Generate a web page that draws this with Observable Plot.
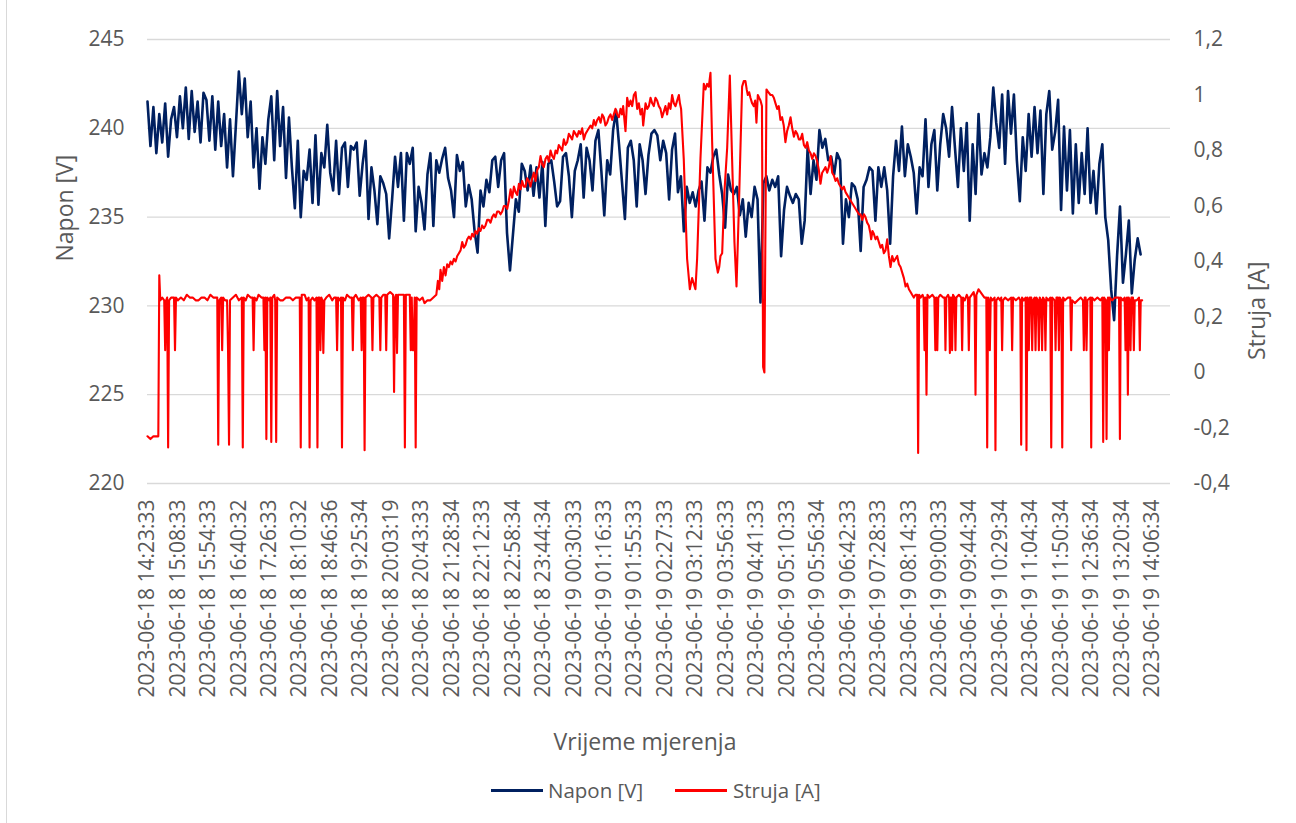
<!DOCTYPE html>
<html><head><meta charset="utf-8">
<script src="https://cdn.jsdelivr.net/npm/d3@7"></script>
<script src="https://cdn.jsdelivr.net/npm/@observablehq/plot@0.6"></script>
<style>
body{margin:0;background:#fff;font-family:"Open Sans",sans-serif;}
#wrap{position:relative;width:1296px;height:823px;overflow:hidden;background:#fff;}
#frame{position:absolute;left:6px;top:-2px;width:1300px;height:1000px;border-left:1px solid #d9d9d9;}
#chart{position:absolute;left:0;top:0;}
#legend{position:absolute;top:776px;left:0;width:1296px;height:28px;font-size:20.5px;color:#595959;}
.item{position:absolute;top:0;height:28px;line-height:28px;white-space:nowrap;}
.sw{position:absolute;top:13px;height:2.5px;width:52px;}
</style></head>
<body><div id="wrap"><div id="frame"></div><div id="chart"></div>
<div id="legend">
 <div class="sw" style="left:491px;background:#002060"></div><div class="item" style="left:548px">Napon [V]</div>
 <div class="sw" style="left:675px;background:#ff0000"></div><div class="item" style="left:733px">Struja [A]</div>
</div></div>
<script>
const xTickLabels = ["2023-06-18 14:23:33","2023-06-18 15:08:33","2023-06-18 15:54:33","2023-06-18 16:40:32","2023-06-18 17:26:33","2023-06-18 18:10:32","2023-06-18 18:46:36","2023-06-18 19:25:34","2023-06-18 20:03:19","2023-06-18 20:43:33","2023-06-18 21:28:34","2023-06-18 22:12:33","2023-06-18 22:58:34","2023-06-18 23:44:34","2023-06-19 00:30:33","2023-06-19 01:16:33","2023-06-19 01:55:33","2023-06-19 02:27:33","2023-06-19 03:12:33","2023-06-19 03:56:33","2023-06-19 04:41:33","2023-06-19 05:10:33","2023-06-19 05:56:34","2023-06-19 06:42:33","2023-06-19 07:28:33","2023-06-19 08:14:33","2023-06-19 09:00:33","2023-06-19 09:44:34","2023-06-19 10:29:34","2023-06-19 11:04:34","2023-06-19 11:50:34","2023-06-19 12:36:34","2023-06-19 13:20:34","2023-06-19 14:06:34"];
const catsPerLabel = 31;
const catCount = 1041.4;
const napStep = 3;
const voltTicks = [220,225,230,235,240,245];
const ampTicks = [-0.4,-0.2,0,0.2,0.4,0.6,0.8,1,1.2];
const ampLabels = ["-0,4","-0,2","0","0,2","0,4","0,6","0,8","1","1,2"];

// Napon [V], one reading every napStep categories
const napon = [
241.5,239.0,241.2,238.6,240.8,239.2,241.4,238.4,240.5,241.2,
239.5,241.8,240.0,242.3,239.4,242.1,239.8,241.5,239.2,242.0,
241.6,239.3,241.8,238.8,241.5,239.0,240.8,237.8,240.5,237.3,
240.2,243.2,240.8,242.8,239.5,241.5,237.8,240.0,236.6,239.5,
238.0,240.5,241.8,238.2,242.1,239.0,241.2,237.2,240.6,237.8,
235.5,239.3,235.0,237.6,237.1,238.8,235.8,239.6,235.7,238.6,
237.8,240.2,237.5,236.5,239.3,236.3,238.9,239.2,236.7,239.0,
238.8,239.2,236.2,238.0,239.3,234.9,237.8,236.5,234.6,237.3,
236.9,236.3,233.8,236.0,238.4,236.7,238.6,234.8,238.6,238.0,
238.9,234.2,236.7,235.8,234.3,237.4,238.6,234.5,238.2,237.5,
238.3,238.9,237.2,236.5,235.0,238.5,237.6,238.1,235.6,236.8,
236.0,234.2,233.0,236.5,235.6,237.1,236.4,238.2,238.4,236.7,
238.2,238.6,234.1,232.0,234.0,236.0,235.3,238.0,237.6,236.5,
237.9,236.2,237.8,236.1,238.1,234.5,238.0,238.2,237.0,235.6,
235.9,238.4,238.6,237.3,235.0,237.6,238.2,239.1,236.1,238.9,
238.2,236.5,239.3,239.9,237.6,235.1,238.2,237.4,239.9,241.0,
239.1,237.0,234.9,238.9,239.3,238.2,235.6,239.1,238.2,236.3,
238.5,239.7,239.9,239.6,238.2,239.3,238.6,236.0,238.8,239.7,
236.4,237.3,234.2,236.7,235.8,236.4,235.6,236.5,237.0,234.8,
237.8,237.5,238.4,238.8,237.4,236.3,234.4,237.4,236.5,236.3,
236.7,235.1,236.0,233.9,235.8,235.0,236.7,236.0,230.2,236.9,
237.3,236.5,237.1,236.7,237.3,232.8,235.4,236.7,236.2,235.8,
236.3,236.0,233.5,234.8,238.9,236.3,238.2,237.1,239.9,238.9,
239.4,238.2,238.4,237.4,238.6,238.2,233.5,236.0,235.0,236.9,
236.7,236.0,233.1,236.7,237.1,237.8,237.6,234.8,237.8,236.7,
237.8,236.5,233.5,237.3,239.3,237.6,240.1,237.3,239.1,238.4,
237.5,235.2,237.8,237.3,240.5,236.7,239.1,239.9,236.5,239.1,
240.8,240.0,238.4,241.2,238.9,236.7,240.0,237.6,240.3,234.8,
239.1,236.3,240.8,237.4,238.6,237.8,239.5,242.3,240.3,238.9,
241.9,238.0,242.1,239.7,241.9,238.2,235.9,239.5,237.6,240.8,
238.4,241.2,238.6,241.0,236.3,240.8,242.1,238.8,239.8,241.6,
235.4,240.1,236.5,239.9,235.2,239.1,235.8,238.6,236.3,240.0,
235.8,237.6,235.2,238.0,239.1,235.0,233.7,230.9,229.2,232.8,
235.6,231.3,232.9,234.8,230.7,232.6,233.8,232.9
];

// Struja [A]: [category index, value]
const struja = [
[0,-0.23],[3,-0.24],[6,-0.23],[11,-0.23],[12,0.35],[13,0.26],[15,0.27],
[17,0.26],[18,0.08],[19,0.26],[20,0.27],[21,-0.27],[22,0.26],[24,0.27],
[27,0.27],[28,0.08],[29,0.27],[31,0.26],[34,0.27],[37,0.26],[40,0.28],[43,0.27],[46,0.27],[49,0.26],[52,0.26],[55,0.27],[58,0.27],[61,0.26],[64,0.28],[67,0.27],
[71,0.27],[72,-0.26],[73,0.26],[75,0.27],[76,0.08],[77,0.27],[79,0.26],[81,0.26],[82,0.08],[83,-0.26],[84,0.26],[87,0.27],[90,0.28],[93,0.26],
[96,0.27],[97,-0.27],[98,0.27],[100,0.26],[102,0.28],[105,0.27],[107,0.27],[108,0.08],[109,0.27],[111,0.26],[113,0.28],[116,0.27],
[118,0.27],[119,0.08],[120,0.27],[121,-0.24],[122,0.27],[124,0.26],[125,0.27],[126,-0.25],[127,0.27],[129,0.28],[130,0.26],[131,-0.25],[132,0.27],
[135,0.26],[138,0.26],[141,0.27],[145,0.27],[148,0.26],[151,0.27],[155,0.27],[156,-0.27],[157,0.28],[160,0.28],[162,0.26],
[164,0.27],[165,-0.27],[166,0.26],[168,0.27],[170,0.26],[172,0.27],[173,-0.27],[174,0.27],[175,0.27],[176,0.08],[177,0.27],[178,0.26],[179,0.07],[180,0.26],
[182,0.27],[185,0.28],[188,0.26],[190,0.27],[192,0.27],[193,0.08],[194,0.27],[196,0.26],[197,0.27],[198,-0.27],[199,0.27],[201,0.26],[203,0.28],[206,0.27],
[208,0.27],[209,0.08],[210,0.27],[212,0.28],[215,0.26],[217,0.27],[218,0.08],[219,0.27],[220,0.27],[221,-0.28],[222,0.27],[225,0.28],
[228,0.27],[229,0.08],[230,0.27],[233,0.28],[236,0.27],[237,0.08],[238,0.27],[240,0.28],[242,0.28],[243,0.08],[244,0.28],[247,0.29],
[250,0.28],[251,-0.07],[252,0.27],[253,0.28],[254,0.07],[255,0.28],[258,0.28],[261,0.28],[262,-0.27],[263,0.28],[265,0.28],
[267,0.28],[268,0.08],[269,0.27],[270,0.08],[271,0.08],[272,0.27],[273,-0.27],[274,0.27],[277,0.26],[280,0.27],[282,0.25],[285,0.26],[288,0.26],[291,0.27],
[294,0.28],[295.6,0.33],[297,0.30],[298.3,0.37],[300,0.33],[301.7,0.38],[303.4,0.35],[305.1,0.39],[306.8,0.38],[308.5,0.40],[310.2,0.39],[311.9,0.41],[313.6,0.40],[315.3,0.42],[317,0.43],[318.7,0.44],[320.4,0.47],[322,0.45],[323.8,0.46],[325.5,0.48],[327.2,0.49],[329,0.48],[330.5,0.50],[332.2,0.49],[333.9,0.51],[335.6,0.50],[337.3,0.52],[339,0.51],[340.7,0.53],[342.4,0.52],[344.1,0.53],[345.8,0.55],[347.5,0.55],[349.2,0.54],[350.9,0.56],[352.6,0.57],[354.3,0.56],[356,0.58],[357.7,0.58],[359.4,0.57],[361.1,0.58],[362.8,0.60],[364.5,0.60],[366.2,0.59],[367.9,0.62],[369.6,0.66],[371.3,0.63],[373,0.67],[374.7,0.65],[376.4,0.64],[378.1,0.68],[379.8,0.66],[381.4,0.69],[383.1,0.67],[384.8,0.67],[386.5,0.70],[388.2,0.69],
[389.9,0.67],[391.6,0.70],[393.3,0.72],[395,0.69],[396.7,0.73],[398.4,0.74],[400.1,0.78],[401.8,0.75],[403.5,0.74],[405.2,0.77],[406.9,0.78],[408.6,0.76],[410.3,0.80],[412,0.78],[413.7,0.77],[415.4,0.80],[417,0.79],[418.7,0.82],[420.4,0.81],[422.1,0.80],[423.8,0.84],[425.5,0.82],[427.2,0.83],[428.9,0.86],[430.6,0.85],[432.3,0.84],[434,0.87],[435.7,0.86],[437.4,0.85],[439.1,0.87],[440.8,0.86],[442.5,0.88],[444.2,0.84],[445.9,0.86],[447.6,0.87],[449.3,0.88],[451,0.89],[452.7,0.88],[454.4,0.91],[456.1,0.89],[457.8,0.91],[459.5,0.92],[461.2,0.90],[462.9,0.93],[464.5,0.92],[466.2,0.89],[467.9,0.90],[469.6,0.92],[471.3,0.93],[473,0.91],[474.7,0.93],[476.4,0.95],[478.1,0.93],[479.8,0.92],[481.5,0.95],[483,0.93],[484.2,0.96],[486.6,0.87],[488.3,0.99],[490,0.96],[491.7,0.98],[493.4,0.96],[495.1,1.0],[496.8,1.01],[498.5,0.95],[500.2,0.97],[501.9,0.93],[503.5,0.95],[504.6,0.89],[507,0.97],[508.7,0.95],[510.4,0.96],[512.1,0.99],[513.8,0.97],[515.4,0.96],[517.1,0.99],[518.8,0.98],[520.5,0.96],[522.2,0.95],
[523.9,0.92],[525.6,0.94],[527.3,0.96],[529,0.93],[530.7,0.97],[532.4,0.95],[534.1,1.0],[535.8,0.97],[537.5,0.96],[539.2,0.98],[540.9,1.0],[542,0.97],[543.2,0.95],[545.9,0.77],[549.3,0.41],[552.1,0.30],[553.2,0.32],[554.4,0.34],[556.1,0.32],[557.8,0.30],[559.5,0.41],[562.9,0.77],[566.3,1.04],[568,1.02],[569.7,1.04],[571.4,1.03],[573.1,1.08],[574.8,0.83],[578.2,0.41],[580.6,0.36],[582,0.38],[583.3,0.42],[585,0.43],[587.3,0.65],[590.1,0.81],[592.8,1.07],[595.1,0.77],[597.5,0.47],[599.6,0.31],[601.9,0.58],[605.3,1.03],[607,1.05],[608.7,1.05],[610,1.02],[611.1,1.0],[612.5,1.01],[613.8,0.99],[615.5,0.97],[617.2,0.96],[618.6,0.98],[619.9,0.90],[621.3,1.0],[622.6,0.99],[624,0.98],[625.5,0.96],[626.7,0.02],[628,0.0],[630.1,1.02],[632,1.01],[634.2,1.0],[636,1.0],[637.6,0.99],[639.3,0.97],[641,0.95],[642.6,0.96],[644.3,0.91],[646,0.92],[647.7,0.89],[649.4,0.83],[651.1,0.87],[652.8,0.89],
[654.6,0.92],[656.3,0.88],[658,0.85],[659.7,0.87],[661.4,0.86],[663.1,0.84],[664.8,0.84],[666.5,0.86],[668.2,0.82],[669.9,0.81],[671.6,0.83],[673.3,0.80],[675,0.79],[676.7,0.77],[678.4,0.79],[680.1,0.78],[681.8,0.76],[683.4,0.73],[685.1,0.68],[686.8,0.72],[688.5,0.73],[690.2,0.74],[691.9,0.72],[693.6,0.74],[695.3,0.78],[697,0.72],[698.7,0.71],[700.4,0.69],[702.1,0.70],[703.8,0.68],[705.5,0.67],[707.2,0.66],[708.9,0.67],[710.6,0.65],[712.3,0.64],[714,0.63],[715.7,0.62],[717.4,0.61],[719.1,0.60],[720.8,0.59],[722.5,0.58],[724.2,0.57],[725.9,0.57],[727.6,0.55],[729.3,0.57],[730.9,0.56],[732.6,0.54],[734.3,0.53],[736,0.50],[736.7,0.48],[738,0.51],[739.4,0.50],[741.1,0.48],[742.8,0.49],[744.5,0.47],[746.2,0.45],[747.9,0.46],[749.6,0.43],[751.3,0.44],[753,0.48],[754.7,0.42],[756.4,0.38],[758.1,0.42],[759.8,0.40],[761.5,0.41],[763.2,0.42],[764.9,0.39],[766.6,0.38],[768.3,0.36],[770,0.34],[771.7,0.31],[773.4,0.32],[775.1,0.30],[776.8,0.29],[778.4,0.28],[780.1,0.27],[781.8,0.28],[783.5,0.28],[784.5,-0.29],[785.5,0.28],
[787,0.27],[789,0.28],[790,0.27],[791,0.08],[792,0.27],[793,-0.08],[794,0.28],[796,0.27],[799,0.28],[801,0.27],[802,0.08],[803,0.27],[804,0.08],[805,0.27],[807,0.28],[810,0.27],[811.5,0.27],[812.3,0.08],[813.2,0.27],[815,0.28],[816,0.27],[816.8,0.07],[817.7,0.27],[818.3,0.27],[819.1,0.08],[820,0.28],[821.6,0.27],[822.5,0.08],[823.4,0.27],[826,0.28],[828.4,0.27],[829.3,0.08],[830.2,0.27],[832,0.26],[834,0.28],[835.2,0.27],[836.1,0.08],[837,0.27],[839,0.28],[841,0.29],[842,0.27],[842.9,-0.08],[843.8,0.28],[846,0.30],[848,0.29],[850,0.28],[852,0.27],[853.9,0.27],[854.8,-0.27],[855.7,0.27],[856.6,0.26],[857.5,0.08],[858.4,0.27],[860,0.26],[862.3,0.27],[863.2,-0.28],[864.1,0.26],[866,0.27],[868,0.26],[869.1,0.27],[870,0.08],[870.9,0.26],[873,0.27],[876,0.26],[879.3,0.27],[880.2,0.08],[881.1,0.27],[884,0.26],[887,0.27],[888.5,0.26],[889.4,-0.26],[890.3,0.27],[892,0.26],[893.9,0.27],[894.8,-0.28],[895.7,0.27],[896.3,0.26],[897.2,0.08],[898.1,0.27],[899.7,0.27],[900.6,0.08],[901.5,0.26],[903.1,0.27],[904,0.08],[904.9,0.27],[906.5,0.26],[907.4,0.08],[908.3,0.27],[909.8,0.26],[910.7,0.08],[911.6,0.27],[913.2,0.26],[914.1,0.08],[915,0.27],[917,0.26],
[919,0.27],[920,-0.27],[921,0.27],[923.5,0.26],[924.4,0.08],[925.3,0.27],[926.9,0.27],[927.8,0.08],[928.7,0.27],[930.3,0.26],[931.2,-0.27],[932.1,0.27],[934,0.26],[937,0.27],[939.4,0.27],[940.3,0.08],[941.2,0.26],[944,0.25],[947,0.26],[950,0.27],[952.3,0.26],[953.2,0.08],[954.1,0.27],[955,0.27],[955.9,0.08],[956.8,0.26],[959.8,0.27],[960.7,-0.27],[961.6,0.27],[964,0.26],[967,0.27],[970,0.26],[972,0.27],[972.9,-0.25],[973.8,0.27],[975.4,0.26],[976.3,-0.24],[977.2,0.26],[977.8,0.27],[978.7,0.08],[979.6,0.27],[982,0.26],[985,0.27],[989,0.27],[989.9,-0.24],[990.8,0.27],[993,0.26],[994.7,0.27],[995.6,0.08],[996.5,0.26],[997.1,0.27],[998,-0.08],[998.9,0.27],[999.8,0.26],[1000.7,0.08],[1001.6,0.27],[1003.2,0.27],[1004.1,0.08],[1005,0.26],[1007,0.26],[1009.3,0.27],[1010.2,0.08],[1011.1,0.26],[1012.6,0.26]
];

const ampToV = a => 220 + (a + 0.4) * (245 - 220) / 1.6;
const naponData = napon.map((v, i) => ({x: i * napStep, y: v}));
const strujaData = struja.map(([x, a]) => ({x, y: ampToV(a)}));
const tickPos = xTickLabels.map((_, i) => i * catsPerLabel);
const grey = "#595959";

const chart = Plot.plot({
  width: 1296, height: 770,
  marginLeft: 147, marginRight: 126, marginTop: 39, marginBottom: 287,
  x: {type: "linear", domain: [0, catCount]},
  y: {domain: [220, 245]},
  style: {fontFamily: "'Open Sans', sans-serif", color: grey, background: "transparent", overflow: "visible"},
  marks: [
    Plot.gridY(voltTicks, {stroke: "#d9d9d9", strokeOpacity: 1, strokeWidth: 1.3}),
    Plot.axisY(voltTicks, {anchor: "left", tickSize: 0, tickPadding: 23, fontSize: 21, label: null, fill: grey}),
    Plot.axisY(ampTicks.map(ampToV), {anchor: "right", tickSize: 0, tickPadding: 23, fontSize: 21, label: null, fill: grey,
      tickFormat: d => ampLabels[ampTicks.findIndex(t => Math.abs(ampToV(t) - d) < 1e-6)]}),
    Plot.axisX(tickPos, {anchor: "bottom", tickSize: 0, tickPadding: 16, tickRotate: -90, fontSize: 21, label: null, fill: grey,
      tickFormat: d => xTickLabels[Math.round(d / catsPerLabel)]}),
    Plot.lineY(naponData, {x: "x", y: "y", stroke: "#002060", strokeWidth: 2.6, curve: "linear"}),
    Plot.lineY(strujaData, {x: "x", y: "y", stroke: "#ff0000", strokeWidth: 2.1, curve: "linear"}),
    Plot.text(["Napon [V]"], {text: d => d, frameAnchor: "left", rotate: -90, dx: -82, fontSize: 23, fill: grey}),
    Plot.text(["Struja [A]"], {text: d => d, frameAnchor: "right", rotate: -90, dx: 87, fontSize: 23, fill: grey}),
    Plot.text(["Vrijeme mjerenja"], {text: d => d, frameAnchor: "bottom", dx: -14, dy: 266, fontSize: 23, fill: grey})
  ]
});
document.getElementById("chart").appendChild(chart);
</script>
</body></html>
